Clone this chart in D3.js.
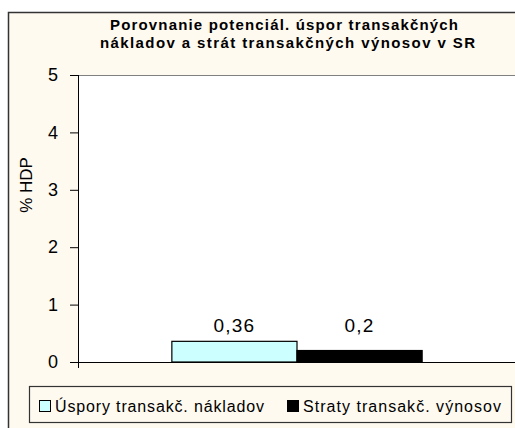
<!DOCTYPE html>
<html>
<head>
<meta charset="utf-8">
<script src="https://cdn.jsdelivr.net/npm/d3@7"></script>
<style>
  html, body { margin: 0; padding: 0; background: #ffffff; }
  svg { display: block; font-family: Arial, "Liberation Sans", sans-serif; }
</style>
</head>
<body>
<svg id="chart" width="515" height="428"></svg>
<script>
const titleLines = ["Porovnanie potenciál. úspor transakčných", "nákladov a strát transakčných výnosov v SR"];
const yAxisTitle = "% HDP";
const categories = [""];
const seriesNames = ["Úspory transakč. nákladov", "Straty transakč. výnosov"];
const seriesValues = [0.36, 0.2];
const seriesColors = ["#CCFFFF", "#000000"];
const yTicks = [0, 1, 2, 3, 4, 5];

const svg = d3.select("#chart");
const locale = d3.formatLocale({decimal: ",", thousands: " ", grouping: [3], currency: ["", ""]});
const fmt = v => locale.format("~g")(v);

const plot = {left: 78, right: 516, top: 75, bottom: 362};
const bg = "#FFFAF0";

// outer frame
svg.append("rect").attr("x", 8.5).attr("y", 12.5).attr("width", 600).attr("height", 500)
  .attr("fill", bg).attr("stroke", "#333").attr("stroke-width", 1.5);

// plot area
svg.append("rect").attr("x", plot.left).attr("y", plot.top)
  .attr("width", plot.right - plot.left).attr("height", plot.bottom - plot.top)
  .attr("fill", "#ffffff");
svg.append("line").attr("x1", plot.left).attr("x2", plot.right)
  .attr("y1", plot.top + 0.5).attr("y2", plot.top + 0.5)
  .attr("stroke", "#808080").attr("stroke-width", 1);

const y = d3.scaleLinear().domain([0, 5]).range([plot.bottom, plot.top]);
const x0 = d3.scaleBand().domain(categories).range([plot.left, plot.right])
  .paddingInner(0).paddingOuter(0.375);
const x1 = d3.scaleBand().domain(seriesNames).range([0, x0.bandwidth()]);

// bars
const data = seriesNames.map((s, i) => ({cat: categories[0], name: s, value: seriesValues[i], color: seriesColors[i]}));
svg.append("g").selectAll("rect").data(data).join("rect")
  .attr("x", d => x0(d.cat) + x1(d.name))
  .attr("y", d => y(d.value))
  .attr("width", x1.bandwidth())
  .attr("height", d => y(0) - y(d.value))
  .attr("fill", d => d.color)
  .attr("stroke", "#000").attr("stroke-width", 1.2);

// data labels
const labelY = y(d3.max(seriesValues)) - 9;
svg.append("g").selectAll("text").data(data).join("text")
  .attr("x", d => x0(d.cat) + x1(d.name) + x1.bandwidth() / 2)
  .attr("y", labelY)
  .attr("text-anchor", "middle")
  .attr("font-size", 19).attr("letter-spacing", 1.2)
  .attr("fill", "#000")
  .text(d => fmt(d.value));

// y axis
const yAxis = d3.axisLeft(y).tickValues(yTicks).tickSize(8).tickPadding(12).tickFormat(d => fmt(d));
const gy = svg.append("g").attr("transform", `translate(${plot.left},0)`).call(yAxis);
gy.select(".domain").remove();
gy.selectAll(".tick line").attr("stroke", "#000");
gy.selectAll(".tick text").attr("font-size", 18).attr("font-family", "Arial, 'Liberation Sans', sans-serif").attr("fill", "#000");
svg.append("line").attr("x1", plot.left + 0.5).attr("x2", plot.left + 0.5)
  .attr("y1", plot.top).attr("y2", plot.bottom + 6).attr("stroke", "#000");

// x axis baseline
svg.append("line").attr("x1", plot.left).attr("x2", plot.right)
  .attr("y1", y(0) + 0.5).attr("y2", y(0) + 0.5).attr("stroke", "#000");

// y axis title
svg.append("text")
  .attr("transform", `translate(32,185) rotate(-90)`)
  .attr("text-anchor", "middle")
  .attr("font-size", 17).attr("fill", "#000")
  .text(yAxisTitle);

// title
const titleLen = [348, 375];
svg.append("g").selectAll("text").data(titleLines).join("text")
  .attr("x", (d, i) => [284, 287.5][i]).attr("y", (d, i) => 30 + i * 17.5)
  .attr("text-anchor", "middle")
  .attr("font-size", 15).attr("font-weight", "bold").attr("fill", "#000")
  .attr("textLength", (d, i) => titleLen[i]).attr("lengthAdjust", "spacing")
  .text(d => d);

// legend
svg.append("rect").attr("x", 29.5).attr("y", 386.5).attr("width", 482).attr("height", 36)
  .attr("fill", bg).attr("stroke", "#333").attr("stroke-width", 1.2);
const legendX = [39, 287];
const legendTextLen = [209, 198];
const lg = svg.append("g").selectAll("g").data(data).join("g")
  .attr("transform", (d, i) => `translate(${legendX[i]},400)`);
lg.append("rect").attr("x", 0.5).attr("y", 0.5).attr("width", 11).attr("height", 11)
  .attr("fill", d => d.color).attr("stroke", "#000");
lg.append("text").attr("x", 16).attr("y", 12)
  .attr("font-size", 16).attr("fill", "#000")
  .attr("textLength", (d, i) => legendTextLen[i]).attr("lengthAdjust", "spacing")
  .text(d => d.name);
</script>
</body>
</html>
